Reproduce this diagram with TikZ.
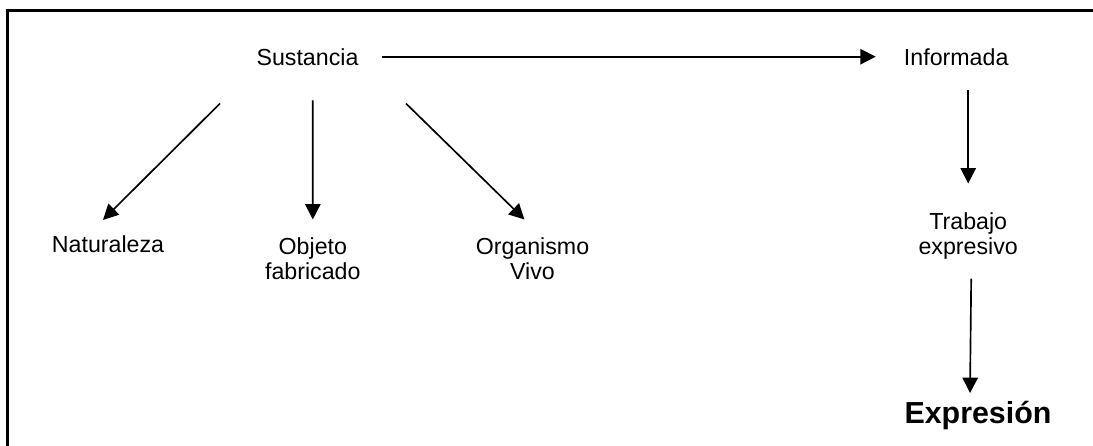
\documentclass[tikz,border=0pt]{standalone}
\usepackage{fontspec}
\setmainfont{Liberation Sans}
\usetikzlibrary{arrows.meta,positioning,calc}
\tikzset{
  concept/.style={
    inner sep=0pt, align=center,
    font=\fontsize{17.4pt}{18.75pt}\selectfont
  },
  %
  bigconcept/.style={
    concept, font=\fontsize{22.8pt}{26pt}\selectfont\bfseries
  },
  %
  arr/.style={
    -{Triangle[length=11.5pt,width=11.5pt]}, line width=1.25pt
  },
  %
  frame/.style={
    line width=1.9pt
  }
}

\begin{document}
\begin{tikzpicture}[x=0.75pt,y=-0.75pt]
\useasboundingbox (0,0) rectangle (1093,446);
\draw[frame] (7.7,450) -- (7.7,10.3) -- (1100,10.3);

\node(sust)[concept, anchor=base] at (307.5,65) {Sustancia};
\node(inf)[concept, right=408.75pt of sust] {Informada};

\node(nat)[concept, anchor=base] at (108,252) {Naturaleza};
\node(obj)[concept, below=129pt of sust, xshift=4pt] {Objeto\\fabricado};
\node(org)[concept, right=86pt of obj] {Organismo\\Vivo};

\node(trab)[concept, below=110.25pt of inf, xshift=9pt] {Trabajo\\expresivo};
\node(exp)[bigconcept, anchor=base] at (978,423) {Expresión};

\draw[arr, shorten <=17.5pt, shorten >=21pt] (sust.east) -- (inf.west);
\draw[arr] ($(sust.south)+(-87.5,38)$) -- ($(nat.north)+(-5,-15)$);
\draw[arr] ($(sust.south)+(5.3,35)$) -- ($(obj.north)+(0,-18)$);
\draw[arr] ($(sust.south)+(98.5,38)$) -- ($(org.north)+(-8,-18)$);
\draw[arr] ($(inf.south)+(12,25)$) -- ($(trab.north)+(0,-29)$);
\draw[arr] ($(trab.south)+(3,19)$) -- ($(exp.base)+(-8,-30)$);

\end{tikzpicture}
\end{document}
